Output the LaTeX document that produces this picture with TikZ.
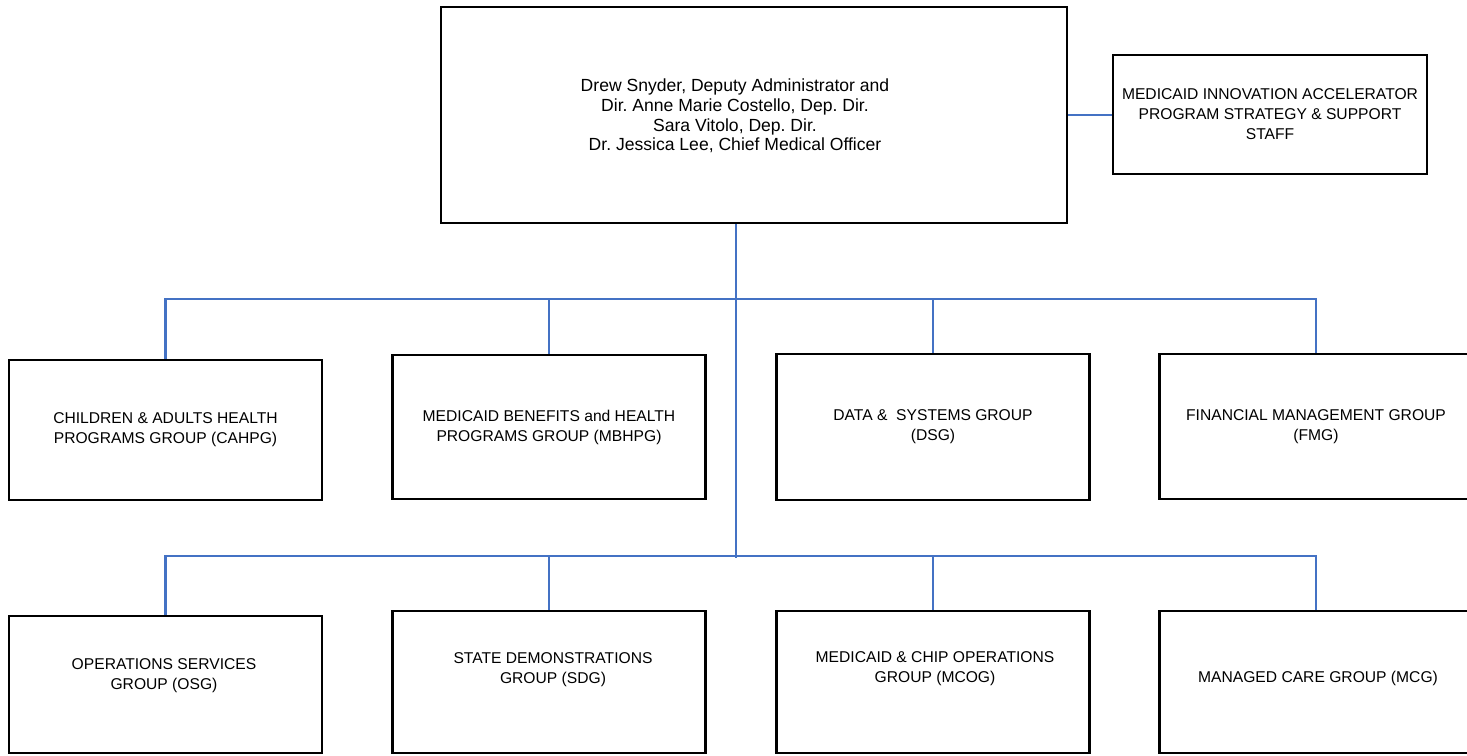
\documentclass[tikz,border=0pt]{standalone}
\usepackage{fontspec}
\setmainfont{Liberation Sans}
\usetikzlibrary{positioning, calc}
\usepackage{xcolor}
\definecolor{orgblue}{HTML}{4472C4}
\frenchspacing
\tikzset{
  unitbox/.style={rectangle, draw=black, line width=1.5pt, inner sep=0pt,
                  minimum width=6.26cm, align=center,
                  font=\fontsize{8.9}{11.4}\selectfont},
  headbox/.style={unitbox, minimum width=12.52cm, minimum height=4.32cm},
  headtext/.style={align=center, inner sep=0pt, font=\fontsize{10}{11.2}\selectfont},
  unittext/.style={align=center, inner sep=0pt, font=\fontsize{8.9}{11.4}\selectfont},
  orgline/.style={draw=orgblue, line width=1.5pt, line join=miter},
}

\begin{document}
\begin{tikzpicture}[x=0.02cm, y=-0.02cm]
  \useasboundingbox (0,0) rectangle (1467,756);

  % --- Front office ---
  \node[headbox] (admin) at (754,115) {};
  \node[headtext] (admintext) at (735,116)
    {Drew Snyder, Deputy Administrator and\\Dir. Anne Marie Costello, Dep. Dir.\\
     Sara Vitolo, Dep. Dir.\\Dr. Jessica Lee, Chief Medical Officer};
  \node[unitbox, minimum width=6.28cm, minimum height=2.38cm] (miap) at (1270,114.5)
    {MEDICAID INNOVATION ACCELERATOR\\PROGRAM STRATEGY \& SUPPORT\\STAFF};

  % --- Groups, first row ---
  \node[unitbox, minimum height=2.80cm] (cahpg) at (165.5,430)
    {CHILDREN \& ADULTS HEALTH\\PROGRAMS GROUP (CAHPG)};
  \node[unitbox, minimum height=2.88cm] (mbhpg) at (549,427)
    {MEDICAID BENEFITS and HEALTH\\PROGRAMS GROUP (MBHPG)};
  \node[unitbox, minimum height=2.92cm] (dsg) at (933,427)
    {DATA \&\ \ SYSTEMS GROUP\\(DSG)};
  \node[unitbox, minimum height=2.90cm] (fmg) at (1316,426.5)
    {FINANCIAL MANAGEMENT GROUP\\(FMG)};

  % --- Groups, second row ---
  \node[unitbox, minimum height=2.74cm] (osg)  at (165.5,684.5) {};
  \node[unitbox, minimum height=2.84cm] (sdg)  at (549,682) {};
  \node[unitbox, minimum height=2.84cm] (mcog) at (933,682) {};
  \node[unitbox, minimum height=2.84cm] (mcg)  at (1316,682) {};
  \node[unittext] (osgtext)  at (164,675.5) {OPERATIONS SERVICES\\GROUP (OSG)};
  \node[unittext] (sdgtext)  at (553,670)   {STATE DEMONSTRATIONS\\GROUP (SDG)};
  \node[unittext] (mcogtext) at (935,669)   {MEDICAID \& CHIP OPERATIONS\\GROUP (MCOG)};
  \node[unittext] (mcgtext)  at (1318,678)  {MANAGED CARE GROUP (MCG)};

  % --- Connectors ---
  \coordinate (trunk) at (736,558);
  \coordinate (busA) at (0,299);
  \coordinate (busB) at (0,556);
  \draw[orgline] (admin.east) -- (admin.east -| miap.west);
  \draw[orgline] (admin.south -| trunk) -- (trunk);

  \draw[orgline] (cahpg.north) -- (cahpg.north |- busA) -- (fmg.north |- busA) -- (fmg.north);
  \foreach \u in {mbhpg,dsg}{\draw[orgline] (\u.north |- busA) -- (\u.north);}

  \draw[orgline] (osg.north) -- (osg.north |- busB) -- (mcg.north |- busB) -- (mcg.north);
  \foreach \u in {sdg,mcog}{\draw[orgline] (\u.north |- busB) -- (\u.north);}

\end{tikzpicture}
\end{document}
